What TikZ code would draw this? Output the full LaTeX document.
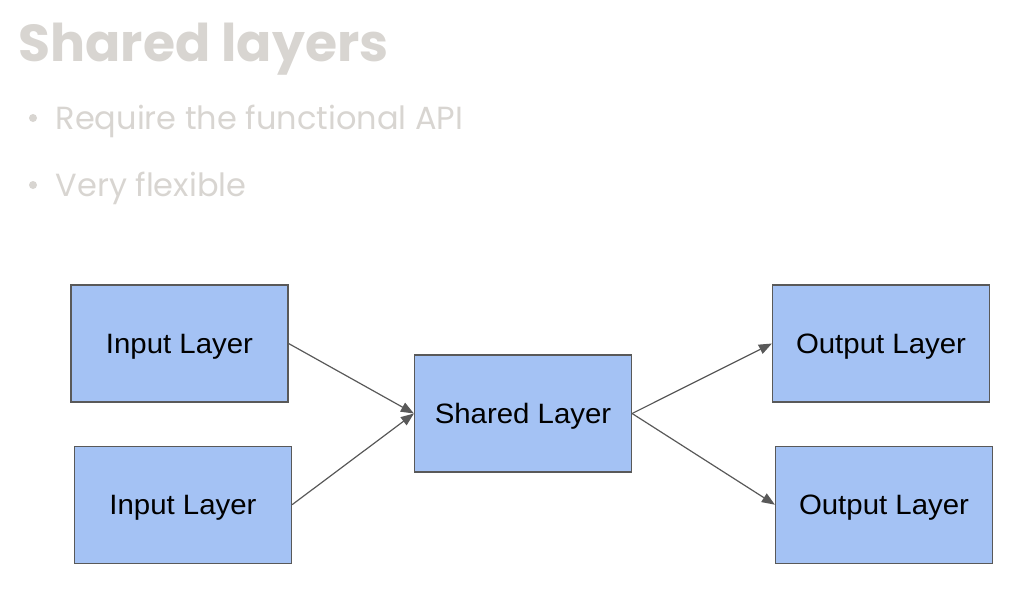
\documentclass[tikz,border=0pt]{standalone}
\usepackage{fontspec}
\setmainfont{Poppins}
\newfontfamily\boxfont[FakeStretch=1.05]{Liberation Sans}
\usetikzlibrary{positioning}
\usetikzlibrary{arrows.meta}
\definecolor{slidegray}{HTML}{D8D5D1}
\definecolor{layerblue}{HTML}{A4C2F4}
\definecolor{edgegray}{HTML}{595959}

\begin{document}
\begin{tikzpicture}[x=1pt,y=-1pt,line width=1.2pt,
  layer/.style={draw=edgegray,fill=layerblue,minimum width=217pt,minimum height=117pt,inner sep=0pt,text depth=0pt,font=\boxfont\fontsize{28}{30}\selectfont},
  link/.style={draw=edgegray,-{Triangle[length=13pt,width=10pt]}},
  bullettext/.style={anchor=base west,inner sep=0pt,text=slidegray,font=\fontsize{32}{38}\selectfont}]
  \useasboundingbox (0,0) rectangle (1024,594);
  \node[anchor=base west,inner sep=0pt,text=slidegray,font=\bfseries\fontsize{52}{60}\selectfont](title) at (18,61) {Shared layers};
  \node[bullettext](req) at (55,129) {Require the functional API};
  \node[bullettext](flex) at (55,196) {Very flexible};
  \fill[slidegray] (33,118) circle (4pt) (33,185) circle (4pt);
  \node[layer](in1) at (179.5,343.5) {Input Layer};
  \node[layer,below=43pt of in1,xshift=3.5pt](in2) {Input Layer};
  \node[layer](shared) at (523,413.5) {Shared Layer};
  \node[layer](out1) at (881,343.5) {Output Layer};
  \node[layer,below=43pt of out1,xshift=3pt](out2) {Output Layer};
  \draw[link] (in1.east)--(shared.west);
  \draw[link] (in2.east)--(shared.west);
  \draw[link] (shared.east)--(out1.west);
  \draw[link] (shared.east)--(out2.west);
\end{tikzpicture}
\end{document}
